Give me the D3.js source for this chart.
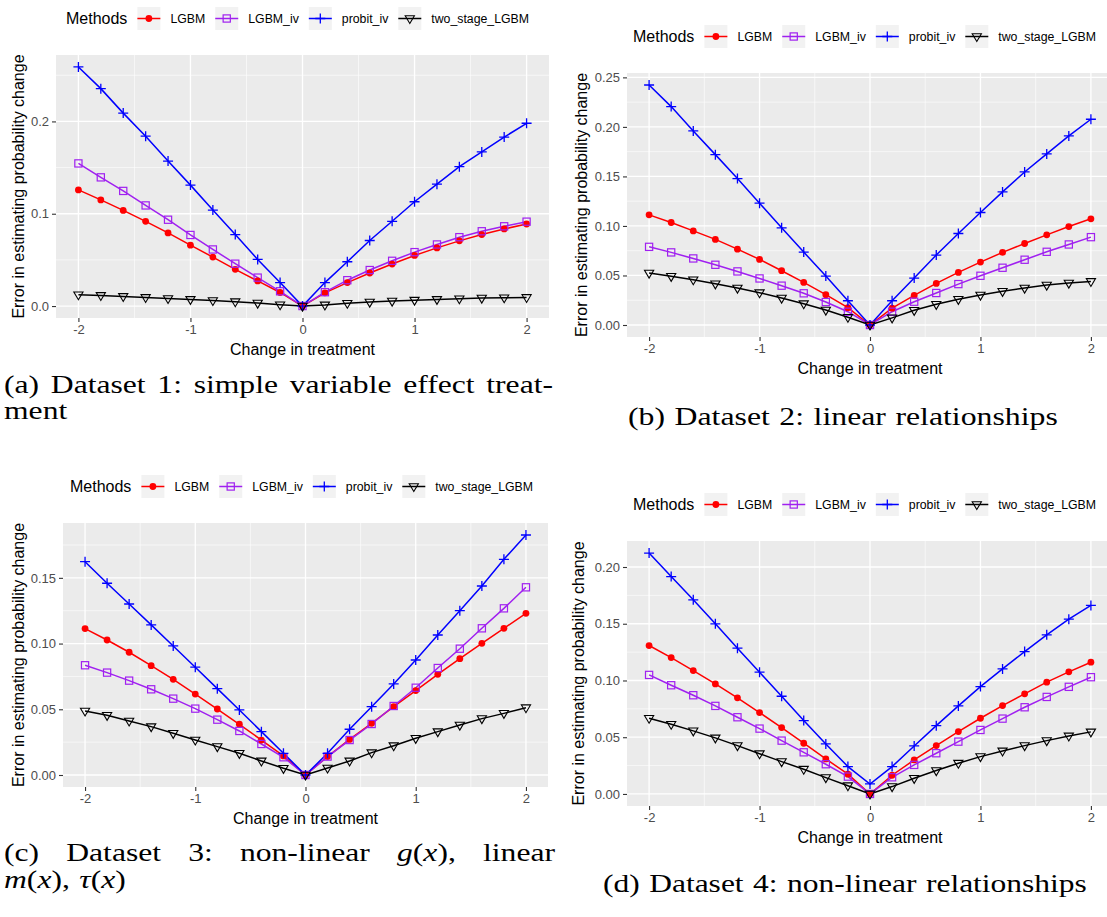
<!DOCTYPE html>
<html>
<head>
<meta charset="utf-8">
<script src="https://cdn.jsdelivr.net/npm/d3@7"></script>
<style>
  body { margin: 0; background: #fff; }
  svg { display: block; }
</style>
</head>
<body>
<svg id="chart" width="1107" height="917"></svg>
<script>
// ---- data ----
const xs = [-2, -1.8, -1.6, -1.4, -1.2, -1, -0.8, -0.6, -0.4, -0.2, 0, 0.2, 0.4, 0.6, 0.8, 1, 1.2, 1.4, 1.6, 1.8, 2];
const methods = ["LGBM", "LGBM_iv", "probit_iv", "two_stage_LGBM"];
const xTicks = [-2, -1, 0, 1, 2];

// Dataset 1
const d1_LGBM = [0.1258, 0.115, 0.1036, 0.0918, 0.0792, 0.0659, 0.053, 0.0398, 0.0272, 0.0147, 0, 0.0143, 0.0254, 0.0358, 0.0455, 0.0548, 0.063, 0.0706, 0.0774, 0.0835, 0.0889];
const d1_LGBM_iv = [0.1545, 0.1394, 0.1247, 0.109, 0.0935, 0.077, 0.0613, 0.0459, 0.0308, 0.016, 0, 0.015, 0.028, 0.039, 0.049, 0.0584, 0.0667, 0.0746, 0.081, 0.0864, 0.0914];
const d1_probit_iv = [0.259, 0.2355, 0.209, 0.184, 0.157, 0.131, 0.104, 0.0774, 0.0505, 0.0254, 0, 0.0254, 0.048, 0.071, 0.0918, 0.113, 0.132, 0.151, 0.167, 0.183, 0.198];
const d1_two_stage = [0.0122, 0.0115, 0.0104, 0.0093, 0.0082, 0.0072, 0.006, 0.0047, 0.0032, 0.0014, 0, 0.0012, 0.003, 0.0043, 0.0054, 0.0064, 0.0072, 0.0079, 0.0086, 0.009, 0.0093];
const yTicks1 = [0, 0.1, 0.2];

// Dataset 2
const d2_LGBM = [0.1112, 0.1035, 0.095, 0.0864, 0.0766, 0.0662, 0.0548, 0.043, 0.0306, 0.0175, 0, 0.017, 0.0299, 0.042, 0.0531, 0.0635, 0.0733, 0.0823, 0.091, 0.0994, 0.1072];
const d2_LGBM_iv = [0.0789, 0.0733, 0.0672, 0.0608, 0.0541, 0.047, 0.0397, 0.032, 0.0232, 0.0134, 0, 0.0134, 0.0235, 0.0323, 0.0413, 0.0497, 0.0578, 0.0659, 0.0739, 0.0813, 0.0887];
const d2_probit_iv = [0.2423, 0.2205, 0.1959, 0.172, 0.1478, 0.123, 0.0981, 0.0736, 0.0494, 0.0245, 0, 0.0245, 0.0474, 0.0706, 0.0924, 0.1136, 0.1344, 0.1545, 0.1727, 0.1909, 0.2077];
const d2_two_stage = [0.0524, 0.0491, 0.0457, 0.0416, 0.0373, 0.0326, 0.0272, 0.0215, 0.0151, 0.0078, 0, 0.0072, 0.0148, 0.0209, 0.0259, 0.0302, 0.034, 0.0373, 0.0403, 0.0423, 0.044];
const yTicks2 = [0, 0.05, 0.1, 0.15, 0.2, 0.25];

// Dataset 3
const d3_LGBM = [0.1114, 0.1027, 0.0934, 0.0832, 0.0728, 0.0616, 0.0502, 0.0386, 0.0266, 0.0145, 0, 0.014, 0.0271, 0.0393, 0.052, 0.0642, 0.0766, 0.0885, 0.1002, 0.1116, 0.123];
const d3_LGBM_iv = [0.0835, 0.0779, 0.0718, 0.0652, 0.0581, 0.0505, 0.0421, 0.0335, 0.0236, 0.0135, 0, 0.014, 0.0266, 0.0388, 0.0525, 0.0664, 0.0814, 0.0961, 0.1116, 0.1268, 0.1428];
const d3_probit_iv = [0.1623, 0.1459, 0.1301, 0.1142, 0.0982, 0.082, 0.0657, 0.0495, 0.033, 0.0165, 0, 0.0165, 0.0348, 0.052, 0.0693, 0.0875, 0.1065, 0.125, 0.1438, 0.1641, 0.1826];
const d3_two_stage = [0.0487, 0.0454, 0.0411, 0.0368, 0.0317, 0.0266, 0.0216, 0.0165, 0.0107, 0.0051, 0, 0.0053, 0.0107, 0.017, 0.0223, 0.0279, 0.033, 0.038, 0.0429, 0.0469, 0.0512];
const yTicks3 = [0, 0.05, 0.1, 0.15];

// Dataset 4
const d4_LGBM = [0.1308, 0.1202, 0.1087, 0.097, 0.0847, 0.0717, 0.0585, 0.0447, 0.0309, 0.0174, 0, 0.0165, 0.03, 0.0426, 0.055, 0.0667, 0.0779, 0.0882, 0.0985, 0.1076, 0.1161];
const d4_LGBM_iv = [0.1049, 0.0958, 0.087, 0.0776, 0.0676, 0.0576, 0.047, 0.0367, 0.0262, 0.0153, 0, 0.0147, 0.0256, 0.0359, 0.0461, 0.0564, 0.0664, 0.0764, 0.0855, 0.0944, 0.1029];
const d4_probit_iv = [0.2123, 0.1916, 0.1711, 0.1499, 0.1285, 0.1073, 0.0861, 0.0647, 0.0441, 0.0241, 0.0088, 0.0241, 0.0423, 0.0602, 0.0776, 0.0946, 0.1102, 0.1255, 0.1402, 0.154, 0.1661];
const d4_two_stage = [0.0667, 0.0614, 0.0556, 0.0494, 0.0426, 0.0355, 0.0285, 0.0218, 0.0144, 0.0073, 0, 0.0065, 0.0138, 0.0206, 0.0271, 0.0329, 0.0379, 0.0426, 0.047, 0.0511, 0.0547];
const yTicks4 = [0, 0.05, 0.1, 0.15, 0.2];

const xTitle = "Change in treatment";
const yTitle = "Error in estimating probability change";
const legendTitle = "Methods";

const captionA = ["(a) Dataset 1: simple variable effect treat-", "ment"];
const captionB = ["(b) Dataset 2: linear relationships"];
const captionC = ["(c) Dataset 3: non-linear g(x), linear", "m(x), τ(x)"];
const captionD = ["(d) Dataset 4: non-linear relationships"];

// ---- styling ----
const colors = { LGBM: "#ff0000", LGBM_iv: "#a020f0", probit_iv: "#0000ff", two_stage_LGBM: "#000000" };
const sans = "'Liberation Sans', Arial, Helvetica, sans-serif";
const serif = "'Liberation Serif', 'Times New Roman', serif";

// panel boxes (px) for the 2x2 layout
const panels = [
  { series: [d1_LGBM, d1_LGBM_iv, d1_probit_iv, d1_two_stage], yTicks: yTicks1, fmt: ".1f",
    left: 56, right: 549, top: 55, bottom: 318, legendX: 66, yTitleX: 18 },
  { series: [d2_LGBM, d2_LGBM_iv, d2_probit_iv, d2_two_stage], yTicks: yTicks2, fmt: ".2f",
    left: 627, right: 1113, top: 73, bottom: 337, legendX: 633, yTitleX: 581 },
  { series: [d3_LGBM, d3_LGBM_iv, d3_probit_iv, d3_two_stage], yTicks: yTicks3, fmt: ".2f",
    left: 63, right: 548, top: 523, bottom: 787, legendX: 70, yTitleX: 18 },
  { series: [d4_LGBM, d4_LGBM_iv, d4_probit_iv, d4_two_stage], yTicks: yTicks4, fmt: ".2f",
    left: 627, right: 1113, top: 541, bottom: 806, legendX: 633, yTitleX: 578 }
];

const svg = d3.select("#chart");
const hyphenMinus = f => d => f(d).replace("\u2212", "-");

function marker(g, method, x, y) {
  const c = colors[method];
  if (method === "LGBM") {
    g.append("circle").attr("cx", x).attr("cy", y).attr("r", 3.4).attr("fill", c);
  } else if (method === "LGBM_iv") {
    g.append("rect").attr("x", x - 3.6).attr("y", y - 3.6).attr("width", 7.2).attr("height", 7.2)
      .attr("fill", "none").attr("stroke", c).attr("stroke-width", 1.2);
  } else if (method === "probit_iv") {
    g.append("path").attr("d", `M${x - 5},${y}H${x + 5}M${x},${y - 5}V${y + 5}`)
      .attr("stroke", c).attr("stroke-width", 1.3).attr("fill", "none");
  } else {
    g.append("path").attr("d", `M${x - 4.6},${y - 2.8}L${x + 4.6},${y - 2.8}L${x},${y + 5}Z`)
      .attr("stroke", c).attr("stroke-width", 1.1).attr("fill", "none");
  }
}

function expand(ext, frac) {
  const pad = (ext[1] - ext[0]) * frac;
  return [ext[0] - pad, ext[1] + pad];
}

panels.forEach(p => {
  const allY = p.series.flat();
  const x = d3.scaleLinear().domain(expand(d3.extent(xs), 0.05)).range([p.left, p.right]);
  const y = d3.scaleLinear().domain(expand(d3.extent(allY), 0.05)).range([p.bottom, p.top]);
  const g = svg.append("g");

  // panel background
  g.append("rect").attr("x", p.left).attr("y", p.top)
    .attr("width", p.right - p.left).attr("height", p.bottom - p.top).attr("fill", "#ebebeb");

  // minor grid
  const step = p.yTicks[1] - p.yTicks[0];
  const yMinor = [];
  for (let v = p.yTicks[0] - step / 2; v <= y.domain()[1]; v += step) {
    if (v >= y.domain()[0]) yMinor.push(v);
  }
  const xMinor = [-1.5, -0.5, 0.5, 1.5];
  g.selectAll(".ymin").data(yMinor).join("line")
    .attr("x1", p.left).attr("x2", p.right).attr("y1", d => y(d)).attr("y2", d => y(d))
    .attr("stroke", "#fff").attr("stroke-width", 0.6);
  g.selectAll(".xmin").data(xMinor).join("line")
    .attr("y1", p.top).attr("y2", p.bottom).attr("x1", d => x(d)).attr("x2", d => x(d))
    .attr("stroke", "#fff").attr("stroke-width", 0.6);
  // major grid
  g.selectAll(".ymaj").data(p.yTicks).join("line")
    .attr("x1", p.left).attr("x2", p.right).attr("y1", d => y(d)).attr("y2", d => y(d))
    .attr("stroke", "#fff").attr("stroke-width", 1.3);
  g.selectAll(".xmaj").data(xTicks).join("line")
    .attr("y1", p.top).attr("y2", p.bottom).attr("x1", d => x(d)).attr("x2", d => x(d))
    .attr("stroke", "#fff").attr("stroke-width", 1.3);

  // axes
  const ax = g.append("g").attr("transform", `translate(0,${p.bottom})`)
    .call(d3.axisBottom(x).tickValues(xTicks).tickSize(4).tickPadding(3).tickFormat(hyphenMinus(d3.format("d"))));
  const ay = g.append("g").attr("transform", `translate(${p.left},0)`)
    .call(d3.axisLeft(y).tickValues(p.yTicks).tickSize(4).tickPadding(3).tickFormat(d3.format(p.fmt)));
  [ax, ay].forEach(a => {
    a.select(".domain").remove();
    a.selectAll(".tick line").attr("stroke", "#333").attr("stroke-width", 1.1);
    a.selectAll(".tick text").attr("fill", "#4d4d4d").style("font-family", sans).style("font-size", "13px");
  });

  // lines first, then points (ggplot layer order)
  const line = d3.line().x((d, i) => x(xs[i])).y(d => y(d));
  p.series.forEach((s, k) => {
    g.append("path").datum(s).attr("d", line).attr("fill", "none")
      .attr("stroke", colors[methods[k]]).attr("stroke-width", 1.5);
  });
  p.series.forEach((s, k) => {
    s.forEach((v, i) => marker(g, methods[k], x(xs[i]), y(v)));
  });

  // axis titles
  g.append("text").attr("x", (p.left + p.right) / 2).attr("y", p.bottom + 37)
    .attr("text-anchor", "middle").style("font-family", sans).style("font-size", "16px").text(xTitle);
  g.append("text").attr("transform", `translate(${p.yTitleX},${(p.top + p.bottom) / 2}) rotate(-90)`)
    .attr("text-anchor", "middle").attr("dy", "0.35em")
    .style("font-family", sans).style("font-size", "16px").text(yTitle);

  // legend
  const ly = p.top - 36.5;
  const lg = g.append("g");
  const tt = lg.append("text").attr("x", p.legendX).attr("y", ly).attr("dy", "0.35em")
    .style("font-family", sans).style("font-size", "16px").text(legendTitle);
  let cx = p.legendX + tt.node().getComputedTextLength() + 10;
  methods.forEach(m => {
    lg.append("rect").attr("x", cx).attr("y", ly - 11.5).attr("width", 23).attr("height", 23).attr("fill", "#f2f2f2");
    lg.append("line").attr("x1", cx).attr("x2", cx + 23).attr("y1", ly).attr("y2", ly)
      .attr("stroke", colors[m]).attr("stroke-width", 1.5);
    marker(lg, m, cx + 11.5, ly);
    const t = lg.append("text").attr("x", cx + 33).attr("y", ly).attr("dy", "0.35em")
      .style("font-family", sans).style("font-size", "12.3px").text(m);
    cx += 33 + t.node().getComputedTextLength() + 10;
  });
});

// ---- captions (LaTeX-like subfigure captions) ----
const capSize = 26;
const mathWord = /^[a-zτ]\(x\),?$/;

function addWord(g, w) {
  const t = g.append("text").attr("y", 0);
  if (mathWord.test(w)) {
    // italic math symbols: g(x), m(x), τ(x)
    t.append("tspan").style("font-style", "italic").text(w[0]);
    t.append("tspan").text("(");
    t.append("tspan").style("font-style", "italic").text("x");
    t.append("tspan").text(w.slice(3));
  } else {
    t.text(w);
  }
  return t;
}

// one caption line: words laid out in a horizontally scaled group
function captionLine(text, x0, baseline, sx, target) {
  const g = svg.append("g").style("font-family", serif).style("font-size", capSize + "px")
    .attr("transform", `translate(${x0},${baseline}) scale(${sx},1)`);
  const words = text.split(" ");
  const nodes = words.map(w => addWord(g, w));
  const widths = nodes.map(n => n.node().getComputedTextLength());
  let gap = capSize * 0.3;
  if (target) gap = (target / sx - d3.sum(widths)) / (words.length - 1);
  let cx = 0;
  nodes.forEach((n, i) => { n.attr("x", cx); cx += widths[i] + gap; });
  return cx - gap;
}

// natural width of a line, used to derive the horizontal glyph scale
function naturalWidth(text) {
  const g = svg.append("g").style("font-family", serif).style("font-size", capSize + "px");
  const words = text.split(" ");
  const w = d3.sum(words.map(t => addWord(g, t).node().getComputedTextLength())) + capSize * 0.3 * (words.length - 1);
  g.remove();
  return w;
}

const sxB = 430 / naturalWidth(captionB[0]);
const sxD = 484 / naturalWidth(captionD[0]);
const sx = (sxB + sxD) / 2;

captionLine(captionA[0], 4, 393, sx, 549);
captionLine(captionA[1], 4, 419, sx, 0);
captionLine(captionB[0], 628, 425, sxB, 0);
captionLine(captionC[0], 4, 861, sx, 551);
captionLine(captionC[1], 4, 888, sx, 0);
captionLine(captionD[0], 603, 892, sxD, 0);
</script>
</body>
</html>
